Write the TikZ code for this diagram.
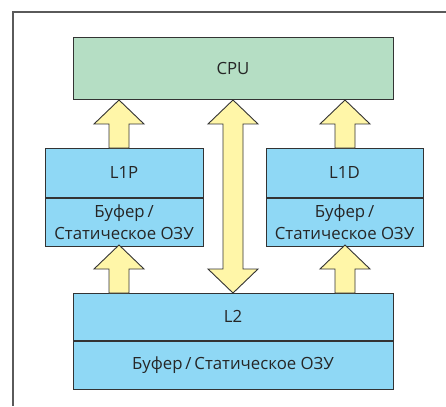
\documentclass[tikz,border=0pt]{standalone}
\usepackage{fontspec}
\setmainfont{Open Sans}
\definecolor{cpugreen}{HTML}{B5DEC4}
\definecolor{cacheblue}{HTML}{8FD8F5}
\definecolor{arrowyellow}{HTML}{FFF6A8}
\definecolor{edge}{HTML}{333333}
\definecolor{framegray}{HTML}{5A5A5A}
\tikzset{
  box/.style={draw=edge, line width=1pt, inner sep=0pt, font=\fontsize{16.8}{22}\selectfont, text=black!85, align=center},
  cpubox/.style={box, fill=cpugreen},
  cachebox/.style={box, fill=cacheblue},
  blockarrow/.style={draw=edge, line width=0.9pt, fill=arrowyellow, line join=miter},
}
\newcommand\blockup[3]{%
  \draw[blockarrow] (#1-10,#3) -- (#1-10,#2+24) -- (#1-25,#2+24) -- (#1,#2) -- (#1+25,#2+24) -- (#1+10,#2+24) -- (#1+10,#3) -- cycle;}
\begin{document}
\begin{tikzpicture}[x=1pt,y=-1pt]
\useasboundingbox (0,0) rectangle (446,406);
\fill[white] (0,0) rectangle (446,406);
\draw[framegray, line width=1.3pt] (446,12) -- (13,12) -- (13,406);

\node[cpubox, minimum width=320pt, minimum height=62pt] (cpu) at (233,69) {CPU};

\node[cachebox, minimum width=158pt, minimum height=49pt] (l1p) at (124,172.5) {L1P};
\node[cachebox, minimum width=158pt, minimum height=48pt, anchor=north] (l1pb) at (l1p.south) {Буфер\,/\\Статическое ОЗУ};

\node[cachebox, minimum width=157pt, minimum height=49pt] (l1d) at (344.5,172.5) {L1D};
\node[cachebox, minimum width=157pt, minimum height=48pt, anchor=north] (l1db) at (l1d.south) {Буфер\,/\\Статическое ОЗУ};

\node[cachebox, minimum width=320pt, minimum height=47pt] (l2) at (233,316.5) {L2};
\node[cachebox, minimum width=320pt, minimum height=48pt, anchor=north] (l2b) at (l2.south) {Буфер\,/\,Статическое ОЗУ};

% arrows into CPU
\blockup{119}{100}{148}
\blockup{345}{100}{148}
% arrows from L2 into L1
\blockup{119}{245}{293}
\blockup{345}{245}{293}
% double arrow CPU <-> L2
\draw[blockarrow] (233,100) -- (258,124) -- (243,124) -- (243,269) -- (258,269) -- (233,293) -- (208,269) -- (223,269) -- (223,124) -- (208,124) -- cycle;
\end{tikzpicture}
\end{document}
